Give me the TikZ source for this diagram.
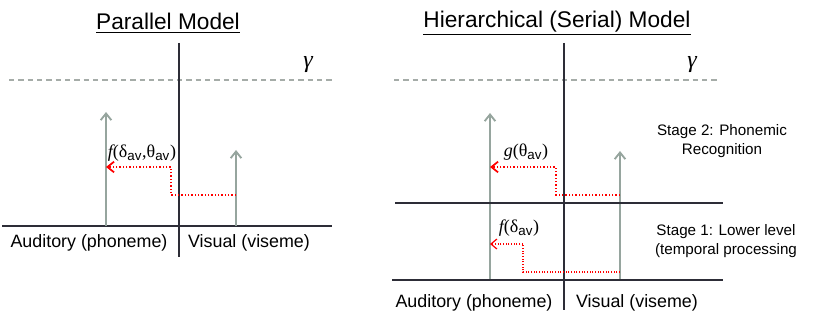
\documentclass[tikz,border=0pt]{standalone}
\usepackage{fontspec}
\setmainfont{Liberation Sans}
\newfontfamily\symfont{Liberation Serif}
\usetikzlibrary{arrows.meta}
\definecolor{axisgray}{RGB}{45,45,55}
\definecolor{arrowgray}{RGB}{150,165,158}
\definecolor{dashgray}{RGB}{165,172,168}
\newcommand{\av}{\textsubscript{\normalfont\fontsize{10}{10}\selectfont av}}
\begin{document}
\begin{tikzpicture}[x=0.75pt, y=-0.75pt,
    axis/.style={draw=axisgray, line width=1.7pt},
    thresh/.style={draw=dashgray, line width=1pt, dash pattern=on 4pt off 3pt},
    level/.style={draw=arrowgray, line width=1.4pt, -{Straight Barb[length=5pt,width=8pt]}},
    flow/.style={draw=red, line width=1.3pt, dash pattern=on 1pt off 1.5pt, -{Straight Barb[length=5pt,width=8pt]}},
    flowthin/.style={draw=red, line width=0.9pt, dash pattern=on 0.8pt off 1.2pt, -{Straight Barb[length=4.5pt,width=7.5pt]}},
    title/.style={font=\fontsize{17}{20}\selectfont},
    lbl/.style={font=\fontsize{13.4}{16}\selectfont},
    stage/.style={font=\fontsize{11.4}{14}\selectfont, align=center},
    fn/.style={font=\fontsize{13.5}{16}\selectfont\symfont, inner sep=0pt},
    thr/.style={font=\fontsize{18}{20}\selectfont\symfont\itshape, inner sep=0pt}]
    \useasboundingbox (0,0) rectangle (817,324);

    % Parallel model
    \node[title] (ptitle) at (168,23) {\underline{Parallel Model}};
    \coordinate (pv1) at (179,43);  \coordinate (pv2) at (179,257);
    \coordinate (ph1) at (2,226);   \coordinate (ph2) at (332,226);
    \coordinate (pd1) at (9,80);    \coordinate (pd2) at (333,80);
    \draw[thresh] (pd1) -- (pd2);
    \draw[axis] (pv1) -- (pv2);
    \draw[axis] (ph1) -- (ph2);
    \node[thr] (pgamma) at (308,65) {γ};
    \coordinate (paud0) at (106,226); \coordinate (paud1) at (106,112);
    \coordinate (pvis0) at (236,226); \coordinate (pvis1) at (236,150);
    \draw[level] (paud0) -- (paud1);
    \draw[level] (pvis0) -- (pvis1);
    \coordinate (pf0) at (236,195); \coordinate (pf1) at (106,167);
    \draw[flow] (pf0) -| (171,167) -- (pf1);
    \node[fn] (pfn) at (142,153) {\itshape f\upshape(δ\av,θ\av)};
    \node[lbl] (paudlbl) at (89,243) {Auditory (phoneme)};
    \node[lbl] (pvislbl) at (249,243) {Visual (viseme)};

    % Hierarchical (serial) model
    \node[title] (htitle) at (557,23) {\underline{Hierarchical (Serial) Model}};
    \coordinate (hv1) at (564,43);  \coordinate (hv2) at (564,310);
    \coordinate (hm1) at (395,203); \coordinate (hm2) at (723,203);
    \coordinate (hb1) at (392,280); \coordinate (hb2) at (723,280);
    \coordinate (hd1) at (394,80);  \coordinate (hd2) at (718,80);
    \draw[thresh] (hd1) -- (hd2);
    \draw[axis] (hv1) -- (hv2);
    \node[thr] (hgamma) at (692,65) {γ};
    \coordinate (haud0) at (490,280); \coordinate (haud1) at (490,113);
    \coordinate (hvis0) at (620,280); \coordinate (hvis1) at (620,151);
    \draw[level] (haud0) -- (haud1);
    \draw[level] (hvis0) -- (hvis1);
    \draw[axis] (hm1) -- (hm2);
    \draw[axis] (hb1) -- (hb2);
    \coordinate (hg0) at (620,195); \coordinate (hg1) at (490,167);
    \draw[flow] (hg0) -| (556,167) -- (hg1);
    \coordinate (hf0) at (620,272); \coordinate (hf1) at (490,244);
    \draw[flowthin] (hf0) -| (523,244) -- (hf1);
    \node[fn] (hgfn) at (526,152) {\itshape g\upshape(θ\av)};
    \node[fn] (hffn) at (519,228) {\itshape f\upshape(δ\av)};
    \node[stage] (stage2) at (722,141) {Stage 2: Phonemic\\Recognition};
    \node[stage] (stage1) at (726,241) {Stage 1: Lower level\\(temporal processing};
    \node[lbl] (haudlbl) at (474,303) {Auditory (phoneme)};
    \node[lbl] (hvislbl) at (637,303) {Visual (viseme)};
\end{tikzpicture}
\end{document}
